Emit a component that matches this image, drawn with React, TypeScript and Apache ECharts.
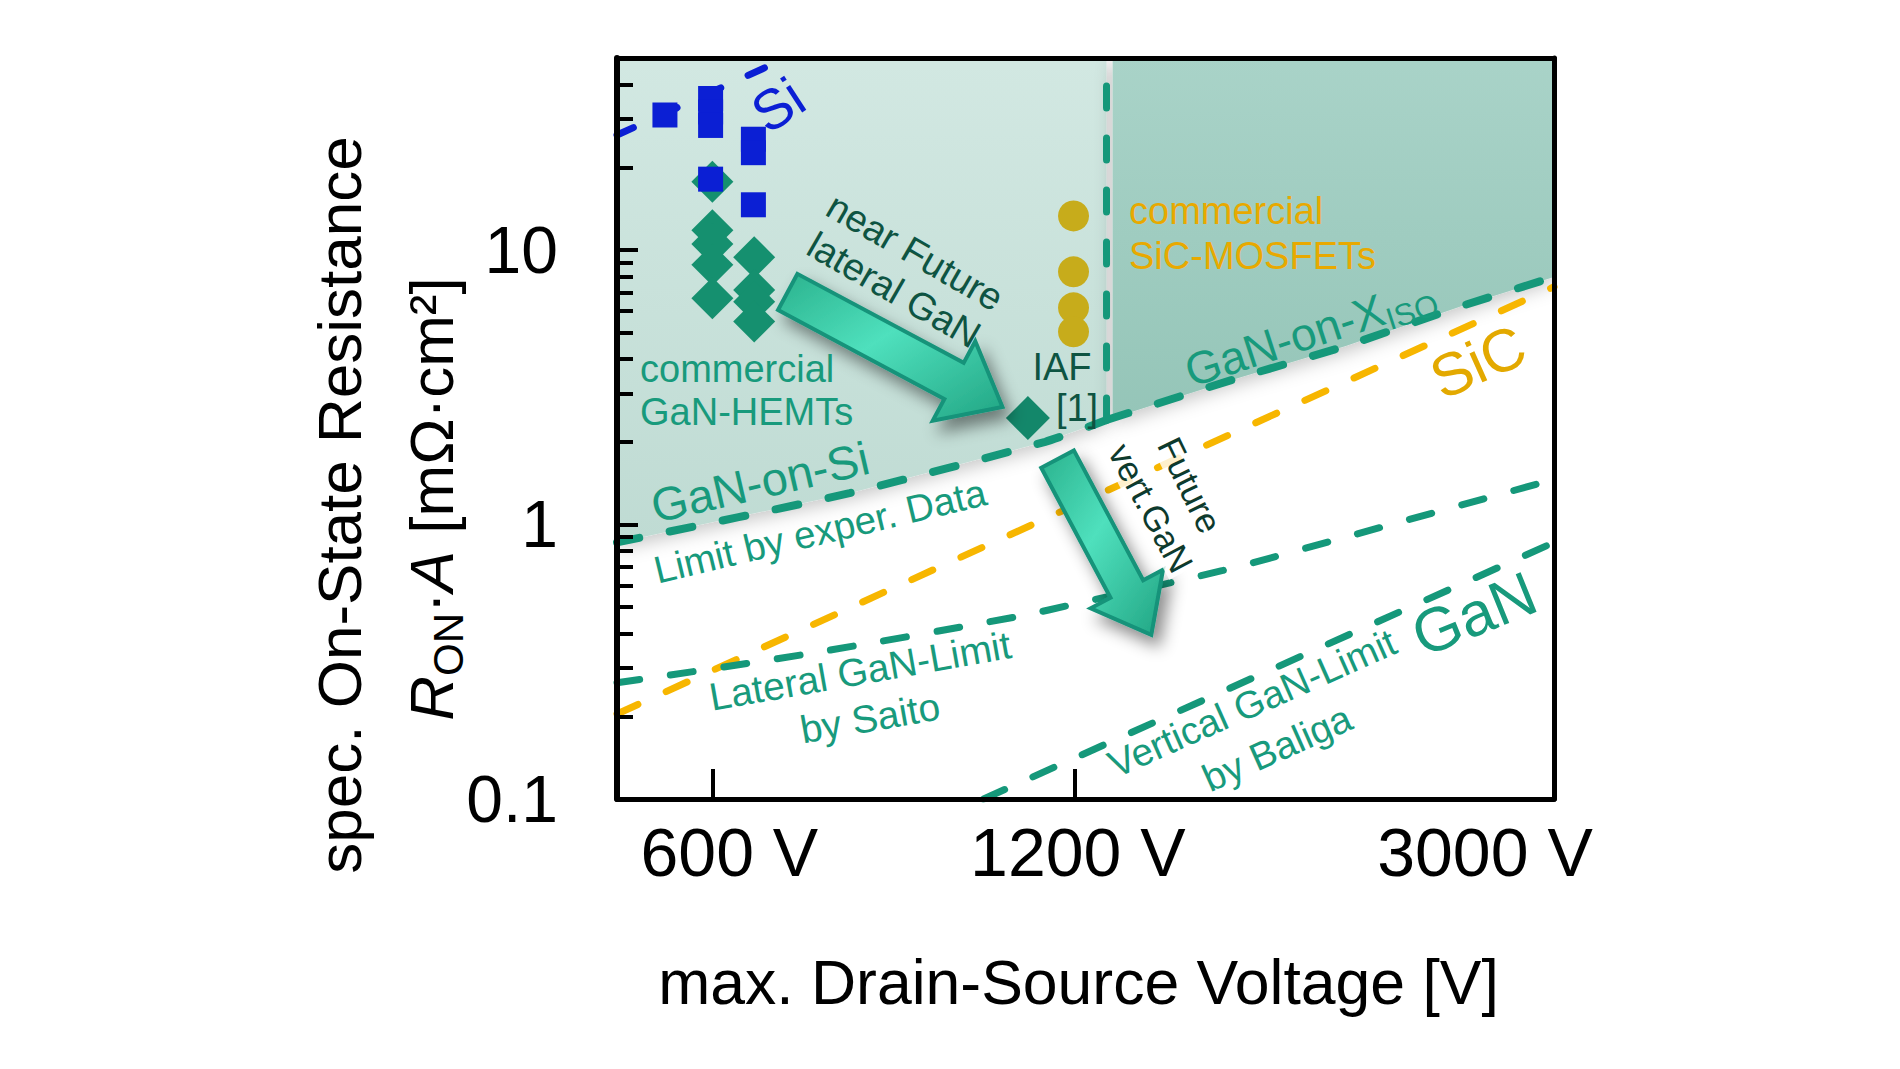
import React, { useEffect, useRef } from "react";
import * as echarts from "echarts";

// ---------- data ----------
const X_MIN = 500;
const X_MAX = 3000;
const Y_MIN = 0.1;
const Y_MAX = 50;

const xLabelValues = [600, 1200, 3000];
const xTickValues = [600, 1200];
const yLabelValues = [0.1, 1, 10];
const yMajorTicks = [1, 10];
const yMinorTicks = [0.2, 0.3, 0.4, 0.5, 0.6, 0.7, 0.8, 0.9, 2, 3, 4, 5, 6, 7, 8, 9, 20, 30, 40];

// boundary "GaN-on-Si" (limit by experimental data)
const ganOnSi = [[500, 0.86], [780, 1.3], [1134, 2.0], [1275, 2.4]];
// boundary "GaN-on-X_ISO"
const ganOnX = [[1275, 2.4], [1620, 3.36], [2015, 4.47], [2516, 6.25], [3000, 7.97]];
// shaded regions (above the boundaries)
const lightRegion = [[500, 0.86], [780, 1.3], [1134, 2.0], [1275, 2.4]];
const darkRegion = [[1290, 2.44], [1620, 3.36], [2015, 4.47], [2516, 6.25], [3000, 7.97]];
const verticalLimit = [[1275, 2.4], [1275, 50]];

const siCLimit = [[500, 0.204], [3000, 7.34]];
const siLimit = [[500, 26.2], [665, 46.3]];
const saitoLimit = [[500, 0.265], [712, 0.335], [1070, 0.46], [1217, 0.52], [1593, 0.68], [2015, 0.9], [3000, 1.46]];
const baligaLimit = [[1008, 0.1], [3000, 0.86]];

const siDevices = [[548, 31], [598, 35.6], [598, 31.8], [598, 28.4], [649, 25.3], [649, 22.6], [598, 18.1], [649, 14.6]];
const ganHemts = [[600, 17.7], [600, 11.8], [600, 10.5], [600, 8.82], [600, 6.67], [650, 9.4], [650, 7.15], [650, 6.48], [650, 5.48]];
const iafDevice = [[1097, 2.44]];
const sicMosfets = [[1197, 13.3], [1197, 8.32], [1197, 6.15], [1197, 5.03]];

// arrows: [fromV, fromR, toV, toR]
const arrows = [
  [693, 7.03, 1045, 2.68],
  [1161, 1.73, 1389, 0.396],
];

// ---------- styling ----------
const FONT = "'Liberation Sans', Arial, Helvetica, sans-serif";
const TEAL = "#15987a";
const TEAL_TEXT = "#189a7c";
const DARK_TEXT = "#0e5442";
const GOLD_LINE = "#f7b600";
const GOLD_DOT = "#c7ac1b";
const BLUE = "#0b1fd4";
const DIAMOND = "#15906f";

const GRID = { left: 617, top: 58, right: 1900 - 1554, bottom: 1069 - 799 };
const deg = (d: number) => (d * Math.PI) / 180;

function txt(text: string, x: number, y: number, size: number, color: string, rot = 0, align = "center", extra: any = {}) {
  return {
    type: "text",
    x,
    y,
    rotation: deg(rot),
    z: 100,
    style: {
      text,
      fill: color,
      font: `${size}px ${FONT}`,
      fontSize: size,
      fontFamily: FONT,
      align,
      verticalAlign: "middle",
      ...extra,
    },
  };
}

export default function App() {
  const ref = useRef<HTMLDivElement>(null);

  useEffect(() => {
    if (!ref.current) return;
    const chart = echarts.init(ref.current, undefined, { renderer: "svg" });

    const dashed = (color: string, width = 7, dash = [23, 31]) => ({
      color,
      width,
      type: dash,
      cap: "round",
    });

    const lineSeries = (name: string, data: number[][], style: any, extra: any = {}) => ({
      name,
      type: "line",
      data,
      showSymbol: false,
      symbol: "none",
      lineStyle: style,
      z: 3,
      silent: true,
      ...extra,
    });

    const axisBase = {
      type: "log",
      logBase: 10,
      splitLine: { show: false },
      minorTick: { show: false },
      minorSplitLine: { show: false },
      z: 20,
    };

    const XL = 68;

    const option: any = {
      animation: false,
      backgroundColor: "#ffffff",
      textStyle: { fontFamily: FONT },
      grid: { ...GRID, outerBoundsMode: "none", containLabel: false },
      xAxis: [
        {
          ...axisBase,
          min: X_MIN,
          max: X_MAX,
          position: "bottom",
          axisLine: { show: true, lineStyle: { color: "#000", width: 5 } },
          axisTick: {
            show: true,
            inside: true,
            length: 30,
            customValues: xTickValues,
            lineStyle: { color: "#000", width: 4 },
          },
          axisLabel: {
            show: true,
            customValues: xLabelValues,
            margin: 19,
            color: "#000",
            fontSize: XL,
            fontFamily: FONT,
            lineHeight: XL,
            showMinLabel: true,
            showMaxLabel: true,
            hideOverlap: false,
            formatter: (v: number) => {
              const r = Math.round(v);
              if (r === 600) return "{a|600 V}";
              if (r === 1200) return "{b|1200 V}";
              return "{c|3000 V}";
            },
            rich: {
              a: { fontSize: XL, fontFamily: FONT, color: "#000", padding: [0, 0, 0, 34] },
              b: { fontSize: XL, fontFamily: FONT, color: "#000", padding: [0, 0, 0, 6] },
              c: { fontSize: XL, fontFamily: FONT, color: "#000", padding: [0, 138, 0, 0] },
            },
          },
          name: "max. Drain-Source Voltage [V]",
          nameLocation: "middle",
          nameGap: 151,
          nameTextStyle: { fontSize: 62.5, fontFamily: FONT, color: "#000", padding: [0, 14, 0, 0] },
        },
        {
          ...axisBase,
          min: X_MIN,
          max: X_MAX,
          position: "top",
          axisLine: { show: true, lineStyle: { color: "#000", width: 5 } },
          axisTick: { show: false },
          axisLabel: { show: false },
        },
      ],
      yAxis: [
        {
          ...axisBase,
          min: Y_MIN,
          max: Y_MAX,
          position: "left",
          axisLine: { show: true, lineStyle: { color: "#000", width: 6 } },
          axisTick: {
            show: true,
            inside: true,
            length: 16,
            customValues: yMinorTicks,
            lineStyle: { color: "#000", width: 4 },
          },
          axisLabel: { show: false },
        },
        {
          ...axisBase,
          min: Y_MIN,
          max: Y_MAX,
          position: "left",
          axisLine: { show: false },
          axisTick: {
            show: true,
            inside: true,
            length: 21,
            customValues: yMajorTicks,
            lineStyle: { color: "#000", width: 4 },
          },
          axisLabel: {
            show: true,
            customValues: yLabelValues,
            margin: 59,
            color: "#000",
            fontSize: 66,
            fontFamily: FONT,
            showMinLabel: true,
            showMaxLabel: true,
            hideOverlap: false,
            formatter: (v: number) => (v < 0.5 ? "0.1" : v < 5 ? "1" : "10"),
            padding: [12, 0, 0, 0],
          },
        },
        {
          ...axisBase,
          min: Y_MIN,
          max: Y_MAX,
          position: "right",
          axisLine: { show: true, lineStyle: { color: "#000", width: 5 } },
          axisTick: { show: false },
          axisLabel: { show: false },
        },
      ],
      series: [
        {
          name: "GaN-on-Si region",
          type: "line",
          data: lightRegion,
          showSymbol: false,
          symbol: "none",
          lineStyle: { width: 0 },
          silent: true,
          z: 1,
          areaStyle: {
            origin: "end",
            opacity: 1,
            color: new echarts.graphic.LinearGradient(0, 0, 0, 1, [
              { offset: 0, color: "#d2e8e2" },
              { offset: 1, color: "#bfdbd3" },
            ]),
            shadowBlur: 18,
            shadowColor: "rgba(0,0,0,0.22)",
            shadowOffsetY: 6,
          },
        },
        {
          name: "GaN-on-X region",
          type: "line",
          data: darkRegion,
          showSymbol: false,
          symbol: "none",
          lineStyle: { width: 0 },
          silent: true,
          z: 1,
          areaStyle: {
            origin: "end",
            opacity: 1,
            color: new echarts.graphic.LinearGradient(0, 0, 0, 1, [
              { offset: 0, color: "#a9d3c8" },
              { offset: 1, color: "#95c5b8" },
            ]),
            shadowBlur: 18,
            shadowColor: "rgba(0,0,0,0.22)",
            shadowOffsetY: 6,
          },
        },
        lineSeries("SiC limit", siCLimit, dashed(GOLD_LINE, 7)),
        lineSeries("Lateral GaN-Limit by Saito", saitoLimit, dashed(TEAL, 7), { smooth: 0.3 }),
        lineSeries("Vertical GaN-Limit by Baliga", baligaLimit, dashed(TEAL, 7)),
        lineSeries("GaN-on-Si", ganOnSi, dashed(TEAL, 8), { smooth: 0.2 }),
        lineSeries("GaN-on-X", ganOnX, dashed(TEAL, 8), { smooth: 0.2 }),
        lineSeries("GaN-on-X vertical", verticalLimit, dashed(TEAL, 7, [22, 30])),
        lineSeries("Si limit", siLimit, dashed(BLUE, 7, [18, 30])),
        {
          name: "commercial GaN-HEMTs",
          type: "scatter",
          data: ganHemts,
          symbol: "diamond",
          symbolSize: 42,
          itemStyle: { color: DIAMOND, opacity: 1 },
          z: 4,
          silent: true,
        },
        {
          name: "Si devices",
          type: "scatter",
          data: siDevices,
          symbol: "rect",
          symbolSize: 25,
          itemStyle: { color: BLUE, opacity: 1 },
          z: 5,
          silent: true,
        },
        {
          name: "IAF [1]",
          type: "scatter",
          data: iafDevice,
          symbol: "diamond",
          symbolSize: 44,
          itemStyle: { color: "#13876a", opacity: 1 },
          z: 5,
          silent: true,
        },
        {
          name: "commercial SiC-MOSFETs",
          type: "scatter",
          data: sicMosfets,
          symbol: "circle",
          symbolSize: 31,
          itemStyle: { color: GOLD_DOT, opacity: 1 },
          z: 5,
          silent: true,
        },
        {
          name: "arrows",
          type: "custom",
          data: arrows,
          encode: { x: [0, 2], y: [1, 3] },
          z: 6,
          silent: true,
          renderItem: (params: any, api: any) => {
            const p0 = api.coord([api.value(0), api.value(1)]);
            const p1 = api.coord([api.value(2), api.value(3)]);
            const dx = p1[0] - p0[0];
            const dy = p1[1] - p0[1];
            const L = Math.hypot(dx, dy);
            const ux = dx / L;
            const uy = dy / L;
            const nx = -uy;
            const ny = ux;
            const first = params.dataIndex === 0;
            const bw = first ? 20.5 : 18.5;
            const hw = first ? 45 : 41;
            const hl = first ? 55 : 52;
            const bx = p1[0] - ux * hl;
            const by = p1[1] - uy * hl;
            const pts = [
              [p0[0] + nx * bw, p0[1] + ny * bw],
              [bx + nx * bw, by + ny * bw],
              [bx + nx * hw, by + ny * hw],
              [p1[0], p1[1]],
              [bx - nx * hw, by - ny * hw],
              [bx - nx * bw, by - ny * bw],
              [p0[0] - nx * bw, p0[1] - ny * bw],
            ];
            return {
              type: "polygon",
              shape: { points: pts },
              style: {
                fill: new echarts.graphic.LinearGradient(0, 0, 1, 1, [
                  { offset: 0, color: "#2ab28d" },
                  { offset: 0.45, color: "#4fe0bd" },
                  { offset: 1, color: "#21a583" },
                ]),
                stroke: "#15937a",
                lineWidth: 4,
                lineJoin: "miter",
                shadowBlur: 16,
                shadowColor: "rgba(0,0,0,0.45)",
                shadowOffsetX: 7,
                shadowOffsetY: 10,
              },
            };
          },
        },
      ],
      graphic: [
        // y axis title
        txt("spec. On-State Resistance", 339, 505, 62, "#000", 90),
        {
          type: "text",
          x: 431,
          y: 499,
          rotation: deg(90),
          z: 100,
          style: {
            text: "{i|R}{s|ON}{n|·}{i|A}{n| [mΩ·cm²]}",
            align: "center",
            verticalAlign: "middle",
            fontFamily: FONT,
            fontSize: 62,
            fill: "#000",
            rich: {
              i: { fontSize: 62, fontFamily: FONT, fontStyle: "italic", fill: "#000", color: "#000", lineHeight: 76 },
              n: { fontSize: 62, fontFamily: FONT, fill: "#000", color: "#000", lineHeight: 76 },
              s: { fontSize: 42, fontFamily: FONT, fill: "#000", color: "#000", lineHeight: 42, verticalAlign: "bottom" },
            },
          },
        },
        // annotations
        txt("Si", 778, 105, 56, BLUE, 33),
        txt("near Future", 915, 252, 38, DARK_TEXT, -30),
        txt("lateral GaN", 894, 290, 38, DARK_TEXT, -30),
        txt("commercial", 640, 369, 38, TEAL_TEXT, 0, "left"),
        txt("GaN-HEMTs", 640, 412, 38, TEAL_TEXT, 0, "left"),
        txt("IAF", 1062, 367, 38, DARK_TEXT),
        txt("[1]", 1077, 408, 38, DARK_TEXT),
        txt("commercial", 1129, 211, 38, "#e8a900", 0, "left"),
        txt("SiC-MOSFETs", 1129, 256, 38, "#e8a900", 0, "left"),
        txt("GaN-on-Si", 760, 482, 47, TEAL_TEXT, 13),
        txt("Limit by exper. Data", 820, 531, 38.5, TEAL_TEXT, 13.5),
        {
          type: "text",
          x: 1310,
          y: 332,
          rotation: deg(18),
          z: 100,
          style: {
            text: "{m|GaN-on-X}{s|ISO}",
            align: "center",
            verticalAlign: "middle",
            fontFamily: FONT,
            fontSize: 46,
            fill: TEAL_TEXT,
            rich: {
              m: { fontSize: 46, fontFamily: FONT, fill: TEAL_TEXT, color: TEAL_TEXT, lineHeight: 56 },
              s: { fontSize: 31, fontFamily: FONT, fill: TEAL_TEXT, color: TEAL_TEXT, lineHeight: 31, verticalAlign: "bottom" },
            },
          },
        },
        txt("SiC", 1478, 362, 60, "#e3a900", 24),
        txt("Future", 1190, 485, 35, "#0d3a2d", -64, "center", { backgroundColor: "rgba(255,255,255,0.8)", padding: [0, 2] }),
        txt("vert.GaN", 1151, 508, 35, "#0d3a2d", -62, "center", { backgroundColor: "rgba(255,255,255,0.8)", padding: [0, 2] }),
        txt("Lateral GaN-Limit", 860, 671, 39, TEAL_TEXT, 10),
        txt("by Saito", 870, 718, 39, TEAL_TEXT, 10),
        txt("Vertical GaN-Limit", 1252, 703, 38.5, TEAL_TEXT, 24),
        txt("by Baliga", 1277, 748, 38.5, TEAL_TEXT, 24),
        txt("GaN", 1474, 614, 62, TEAL_TEXT, 22),
      ],
    };

    chart.setOption(option);
    return () => chart.dispose();
  }, []);

  return (
    <div
      ref={ref}
      style={{ position: "fixed", left: 0, top: 0, width: "1900px", height: "1069px", background: "#fff" }}
    />
  );
}
